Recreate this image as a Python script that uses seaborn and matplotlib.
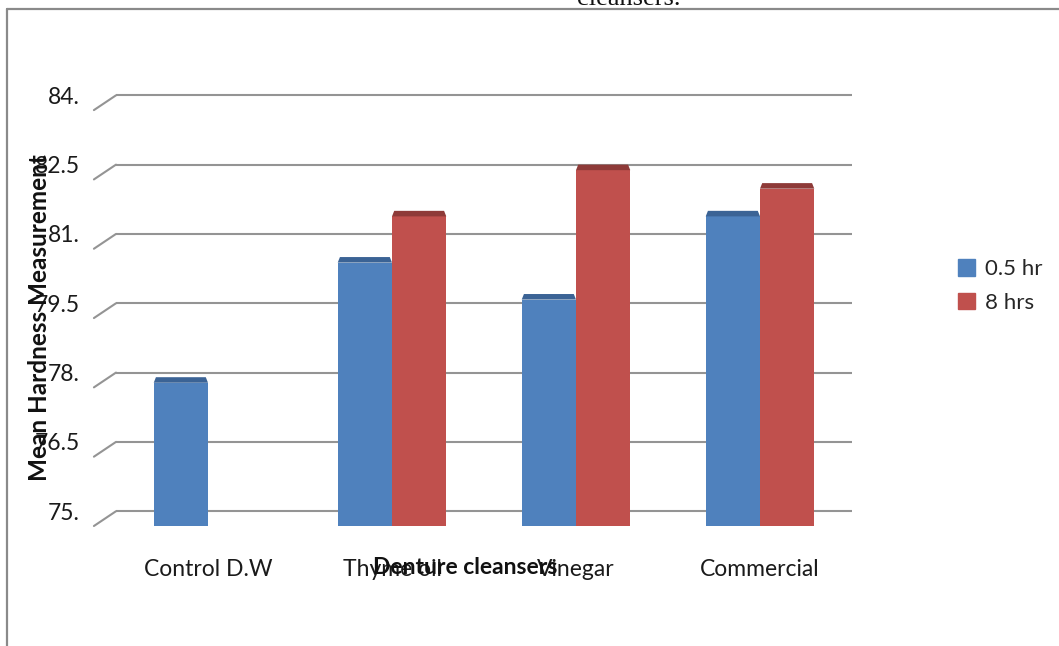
import numpy as np
import pandas as pd
import seaborn as sns
import matplotlib.pyplot as plt
from matplotlib.patches import Polygon, Patch
from matplotlib.lines import Line2D
import matplotlib.transforms as mtransforms

sns.set_theme(style="white")
plt.rcParams['font.family'] = ['Lato', 'DejaVu Sans']

# data
cleansers = ["Control D.W", "Thyme oil", "Vinegar", "Commercial"]
half_hr = [77.9, 80.5, 79.7, 81.5]
eight_hrs = [np.nan, 81.5, 82.5, 82.1]
series = ["0.5 hr", "8 hrs"]
yticks = [75, 76.5, 78, 79.5, 81, 82.5, 84]
ytick_labels = ["75.", "76.5", "78.", "79.5", "81.", "82.5", "84."]

df = pd.DataFrame({
    "cleanser": cleansers * 2,
    "time": [series[0]] * 4 + [series[1]] * 4,
    "hardness": half_hr + eight_hrs,
})

colors = {"0.5 hr": "#4F81BD", "8 hrs": "#C0504D"}
tops = {"0.5 hr": "#3B6395", "8 hrs": "#8E3A38"}

W, H = 1059, 646
fig = plt.figure(figsize=(W / 100, H / 100), dpi=100)
ax = fig.add_axes([116 / W, 1 - 526 / H, 736 / W, 433 / H])

# back-wall gridlines with the little slanted foot on the left
blend = mtransforms.blended_transform_factory(ax.transAxes, ax.transData)
for v in yticks:
    ax.axhline(v, color="#949494", lw=1.5, zorder=0)
    ax.add_line(Line2D([-0.03, 0], [v - 0.32, v], transform=blend,
                       color="#949494", lw=1.5, clip_on=False, zorder=0))

sns.barplot(data=df, x="cleanser", y="hardness", hue="time", order=cleansers,
            hue_order=series, palette=colors, width=0.59, saturation=1,
            linewidth=0, ax=ax, legend=False, zorder=2)

# fake 3d top on each bar
for cont, s in zip(ax.containers, series):
    for bar in cont:
        h = bar.get_height()
        if not np.isfinite(h) or h == 0:
            continue
        x0 = bar.get_x()
        x1 = x0 + bar.get_width()
        d = 0.012
        top = Polygon([(x0, h - 0.12), (x1, h - 0.12), (x1 - d, h), (x0 + d, h)],
                      closed=True, color=tops[s], lw=0, zorder=3)
        ax.add_patch(top)
        bar.set_height(h - 0.12)

ax.set_ylim(74.68, 84.05)
ax.set_xlim(-0.5, 3.5)
ax.set_yticks(yticks)
ax.set_yticklabels(ytick_labels)
ax.tick_params(axis="y", length=0, pad=26, labelsize=16.5, labelcolor="#1a1a1a")
ax.tick_params(axis="x", length=0, pad=24, labelsize=16.5, labelcolor="#1a1a1a")
ax.set_xlabel("")
ax.set_ylabel("")
sns.despine(ax=ax, left=True, bottom=True)
ax.grid(False)

fig.text(465 / W, 1 - 568 / H, "Denture cleansers", ha="center", va="center",
         fontsize=16.5, fontweight="bold", color="#111111")
fig.text(40 / W, 1 - 318 / H, "Mean Hardness Measurement", ha="center",
         va="center", rotation=90, fontsize=17.5, fontweight="bold", color="#111111")

# title cut off at the top of the frame
fig.text(629 / W, 1 - 5 / H, "cleansers.", ha="center", va="baseline",
         fontsize=19, family="Liberation Serif", color="#111111")

handles = [Patch(color=colors[s], label=s) for s in series]
fig.legend(handles=handles, loc="center left",
           bbox_to_anchor=(938 / W, 1 - 286 / H), frameon=False,
           fontsize=16, handlelength=0.75, handleheight=0.75,
           handletextpad=0.45, labelspacing=0.6)

# frame lines of the original page
fig.add_artist(Line2D([7 / W, 1], [1 - 9 / H, 1 - 9 / H], color="#8a8a8a", lw=1.6))
fig.add_artist(Line2D([7 / W, 7 / W], [0, 1 - 9 / H], color="#8a8a8a", lw=1.6))

fig.savefig("out.png", dpi=100)
